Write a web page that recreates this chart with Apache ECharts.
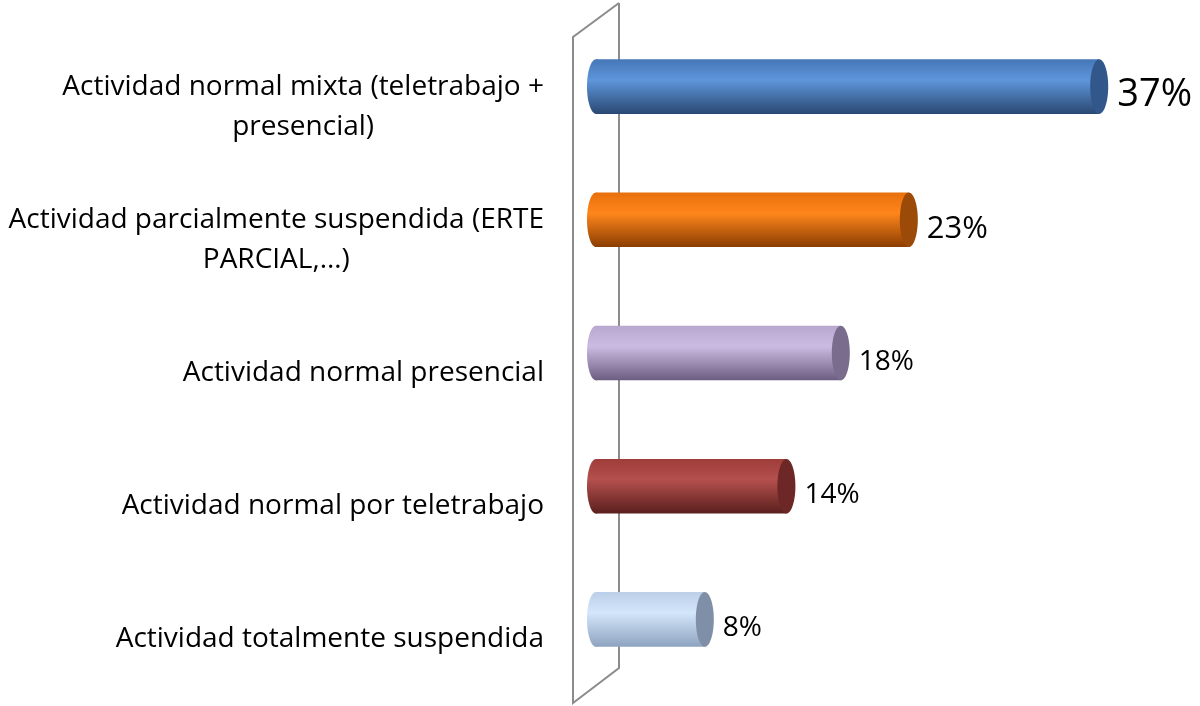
<!DOCTYPE html>
<html>
<head>
<meta charset="UTF-8">
<title>Situación de la actividad</title>
<script src="https://cdn.jsdelivr.net/npm/echarts@6/dist/echarts.min.js"></script>
<style>html,body{margin:0;padding:0;background:#fff;}</style>
</head>
<body>
<div id="main" style="width:1200px;height:706px;"></div>
<script>
var categorias = [
    'Actividad normal mixta (teletrabajo +\npresencial)',
    'Actividad parcialmente suspendida (ERTE\nPARCIAL,…)',
    'Actividad normal presencial',
    'Actividad normal por teletrabajo',
    'Actividad totalmente suspendida'
];
var valores = [37, 23, 18, 14, 8];
var etiquetas = ['37%', '23%', '18%', '14%', '8%'];

// colores por cilindro: borde superior, claro, oscuro, tapa
var colores = [
    ['#4577b8', '#5e96db', '#2a4872', '#32578a'],
    ['#e8700c', '#ff861c', '#8a3d02', '#9c4a08'],
    ['#b9a7cf', '#cbbbe2', '#6b5d80', '#7a6c8d'],
    ['#9e3d3a', '#b4504d', '#5a1f1d', '#6c2726'],
    ['#bccfe8', '#d3e6fb', '#8ea3bf', '#7e8fa7']
];
var tamLetra = [38, 31, 28, 28, 28];

var chart = echarts.init(document.getElementById('main'), null, {renderer: 'canvas'});

function cilindro(params, api) {
    var i = params.dataIndex;
    var p0 = api.coord([0, api.value(1)]);
    var p1 = api.coord([api.value(0), api.value(1)]);
    var h = api.size([0, 1])[1] * 0.41;
    var rx = 9, ry = h / 2;
    var c = colores[i];
    var grad = new echarts.graphic.LinearGradient(0, 0, 0, 1, [
        {offset: 0, color: c[0]},
        {offset: 0.38, color: c[1]},
        {offset: 1, color: c[2]}
    ]);
    return {
        type: 'group',
        children: [
            {type: 'ellipse', shape: {cx: p0[0], cy: p0[1], rx: rx, ry: ry}, style: {fill: grad}},
            {type: 'rect', shape: {x: p0[0], y: p0[1] - ry, width: p1[0] - p0[0], height: h}, style: {fill: grad}},
            {type: 'ellipse', shape: {cx: p1[0], cy: p1[1], rx: rx, ry: ry}, style: {fill: c[3]}},
            {type: 'text', x: p1[0] + rx + 9, y: p1[1] + 9,
             style: {text: etiquetas[i], fill: '#000', fontSize: tamLetra[i],
                     fontFamily: 'Open Sans', verticalAlign: 'middle', align: 'left'}}
        ]
    };
}

var option = {
    animation: false,
    backgroundColor: '#fff',
    grid: {left: 596, right: 60, top: 20, bottom: 20},
    graphic: [{
        type: 'polyline',
        z: 0,
        shape: {points: [[619, 3], [573, 37], [573, 703], [619, 668], [619, 3]]},
        style: {stroke: '#8c8c8c', lineWidth: 2, fill: null}
    }],
    xAxis: {type: 'value', min: 0, max: 40, show: false},
    yAxis: {
        type: 'category',
        inverse: true,
        data: categorias,
        axisLine: {show: false},
        axisTick: {show: false},
        axisLabel: {
            margin: 52,
            color: '#000',
            fontFamily: 'Open Sans',
            fontSize: 28,
            lineHeight: 40,
            padding: [40, 0, 0, 0],
            formatter: function (v) {
                return v.split('\n').map(function (l) { return '{c|' + l + '}'; }).join('\n');
            },
            rich: {c: {align: 'center', fontFamily: 'Open Sans', fontSize: 28, lineHeight: 40, color: '#000'}}
        }
    },
    series: [{
        type: 'custom',
        z: 10,
        renderItem: cilindro,
        data: valores.map(function (v, i) { return [v, i]; })
    }]
};
chart.setOption(option);
</script>
</body>
</html>
